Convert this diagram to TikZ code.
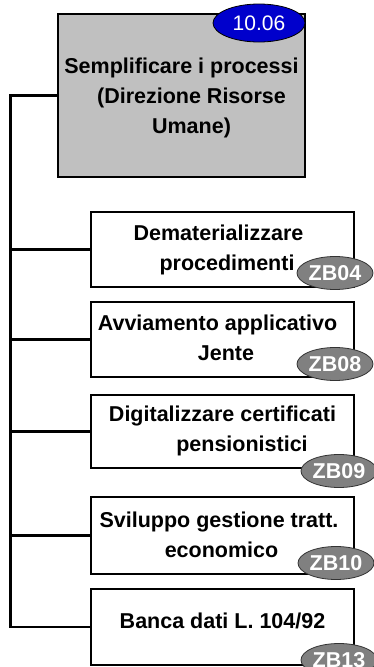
\documentclass[tikz,border=0pt]{standalone}
\usepackage{fontspec}
\setmainfont{Liberation Sans}
\usetikzlibrary{shapes.geometric, calc}

\definecolor{goalgray}{RGB}{192,192,192}
\definecolor{codeblue}{RGB}{0,0,204}
\definecolor{codegray}{RGB}{128,128,128}

\tikzset{
  goalbox/.style={draw=black, line width=2.2pt, fill=goalgray,
    minimum width=247pt, minimum height=163pt, inner sep=0pt},
  actionbox/.style={draw=black, line width=2.2pt, fill=white,
    minimum width=263pt, inner sep=0pt},
  boxtext/.style={align=center, inner sep=0pt,
    font=\bfseries\fontsize{21.5}{30}\selectfont},
  codetag/.style={ellipse, draw=black!80, line width=0.8pt, fill=codegray,
    text=white, inner sep=0pt, minimum width=76pt, minimum height=33pt,
    font=\bfseries\fontsize{21.5}{24}\selectfont},
  link/.style={line width=2.2pt}
}

\begin{document}
\begin{tikzpicture}[x=1pt, y=-1pt]
    % pixel grid of the page, y runs downwards
    \useasboundingbox (0,0) rectangle (374,667);

    % 1. Goal box with its number
    \node[goalbox] (goal) at (181.5,95.5) {};
    \node[boxtext] (goaltext) at (181.5,98)
        {Semplificare i processi\\\hspace*{20pt}(Direzione Risorse\\\hspace*{20pt}Umane)};
    \node[codetag, draw=black, fill=codeblue, minimum width=92pt, minimum height=38pt,
          font=\fontsize{21}{24}\selectfont] (goalcode) at (259,23) {10.06};

    % 2. Action boxes, one under the other
    \node[actionbox, minimum height=75pt] (act1) at (222.5,249.5) {};
    \node[actionbox, minimum height=75pt] (act2) at (222.5,339.5) {};
    \node[actionbox, minimum height=73pt] (act3) at (222.5,431.5) {};
    \node[actionbox, minimum height=77pt] (act4) at (222.5,535.5) {};
    \node[actionbox, minimum height=76pt] (act5) at (222.5,627) {};

    % 3. Texts inside the action boxes
    \node[boxtext] (act1text) at (218.5,250) {Dematerializzare\\\hspace*{17pt}procedimenti};
    \node[boxtext] (act2text) at (217.5,338) {Avviamento applicativo\\\hspace*{17pt}Jente};
    \node[boxtext] (act3text) at (222.5,431) {Digitalizzare certificati\\\hspace*{39pt}pensionistici};
    \node[boxtext] (act4text) at (219,535) {Sviluppo gestione tratt.\\\hspace*{5pt}economico};
    \node[boxtext] (act5text) at (222.5,621) {Banca dati L. 104/92};

    % 4. Code tags on the lower right corners
    \node[codetag] (act1code) at (335,273) {ZB04};
    \node[codetag] (act2code) at (335,364) {ZB08};
    \node[codetag] (act3code) at (339,471) {ZB09};
    \node[codetag] (act4code) at (336,563) {ZB10};
    \node[codetag] (act5code) at (339,660) {ZB13};

    % 5. Tree lines: spine on the left, one branch per action
    \coordinate (spine) at (10.5,0);
    \draw[link] (goal.west) -| (spine |- act5.west) -- (act5.west);
    \draw[link] (spine |- act1.west) -- (act1.west);
    \draw[link] (spine |- act2.west) -- (act2.west);
    \draw[link] (spine |- act3.west) -- (act3.west);
    \draw[link] (spine |- act4.west) -- (act4.west);

\end{tikzpicture}
\end{document}
